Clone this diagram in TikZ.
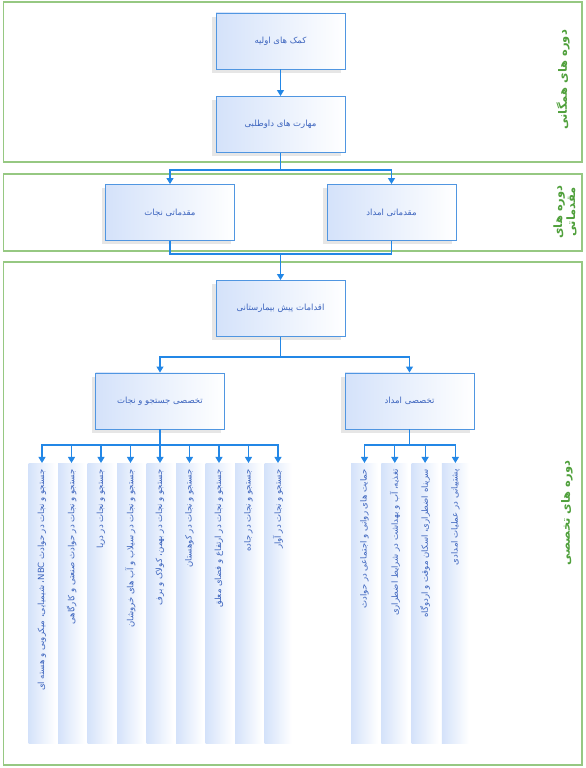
\documentclass[tikz,border=0pt]{standalone}
\usepackage{graphicx}
\usepackage{fontspec}
\newfontfamily\farsifont[Script=Arabic]{DejaVu Sans}
\usetikzlibrary{arrows.meta,shadows}
\TeXXeTstate=1
\definecolor{panelGreen}{RGB}{150,200,130}
\definecolor{labelGreen}{RGB}{80,160,60}
\definecolor{boxBlue}{RGB}{80,150,225}
\definecolor{arrBlue}{RGB}{35,135,230}
\definecolor{textBlue}{RGB}{60,100,190}
\definecolor{shadeBlue}{RGB}{212,226,250}
\newcommand{\fatext}[1]{{\farsifont\beginR #1\endR}}
\newcommand{\leaftext}[1]{\rotatebox{90}{\makebox[268pt][r]{\fatext{#1}}}}

\begin{document}
\begin{tikzpicture}[x=1pt,y=1pt]
    \tikzstyle{panel} = [ draw=panelGreen, line width=1.2pt ];
    \tikzstyle{block} = [ shape=rectangle, draw=boxBlue, line width=0.9pt, minimum width=129pt, minimum height=56pt, left color=shadeBlue, right color=white, text=textBlue, font=\fontsize{8.5}{10}\selectfont, drop shadow={shadow xshift=-4pt, shadow yshift=-4pt, opacity=0.2} ];
    \tikzstyle{leaf} = [ shape=rectangle, minimum width=27pt, minimum height=280pt, inner sep=0pt, left color=shadeBlue, right color=white, text=textBlue, font=\fontsize{8.5}{10}\selectfont, anchor=north ];
    \tikzstyle{phase} = [ text=labelGreen, font=\bfseries\fontsize{11.5}{13}\selectfont, rotate=90, align=center ];
    \tikzstyle{arr} = [ -{Triangle[width=7pt,length=6pt]}, arrBlue, line width=1.1pt ];
    \tikzstyle{line} = [ arrBlue, line width=1.1pt ];

    \useasboundingbox (0,0) rectangle (586,768);

    % green frames of the three course levels
    \draw [panel] (3.5,606) rectangle (582,766);
    \draw [panel] (3.5,517) rectangle (582,594);
    \draw [panel] (3.5,3) rectangle (582,506);

    \node (nPhaseGeneral) [phase] at (563,688) {\fatext{دوره های همگانی}};
    \node (nPhaseIntro) [phase] at (565,556) {\fatext{دوره های}\\\fatext{مقدماتی}};
    \node (nPhaseSpecial) [phase] at (567,255) {\fatext{دوره های تخصصی}};

    % general courses
    \node (nFirstAid) [block] at (280.5,727) {\fatext{کمک های اولیه}};
    \node (nVolunteer) [block, below of = nFirstAid, node distance = 83.5pt] {\fatext{مهارت های داوطلبی}};
    \draw [arr] (nFirstAid) -- (nVolunteer);

    % introductory courses
    \node (nPreRescue) [block] at (170,555.5) {\fatext{مقدماتی نجات}};
    \node (nPreRelief) [block, right of = nPreRescue, node distance = 221.5pt] {\fatext{مقدماتی امداد}};
    \coordinate (jTop) at (280.5,598);
    \draw [line] (nVolunteer) -- (jTop);
    \draw [arr] (jTop) -| (nPreRescue);
    \draw [arr] (jTop) -| (nPreRelief);

    % specialised courses
    \node (nPreHospital) [block] at (280.5,459.5) {\fatext{اقدامات پیش بیمارستانی}};
    \coordinate (jMid) at (280.5,514);
    \draw [line] (nPreRescue) |- (jMid);
    \draw [line] (nPreRelief) |- (jMid);
    \draw [arr] (jMid) -- (nPreHospital);

    \node (nSpecRescue) [block] at (160,367) {\fatext{تخصصی جستجو و نجات}};
    \node (nSpecRelief) [block, right of = nSpecRescue, node distance = 249.5pt] {\fatext{تخصصی امداد}};
    \coordinate (jSpec) at (280.5,411);
    \draw [line] (nPreHospital) -- (jSpec);
    \draw [arr] (jSpec) -| (nSpecRescue);
    \draw [arr] (jSpec) -| (nSpecRelief);

    % search and rescue branches
    \node (nLeafNbc) [leaf] at (42,305) {\leaftext{جستجو و نجات در حوادث \beginL NBC\endL{}، شیمیایی، میکروبی و هسته ای}};
    \node (nLeafIndustry) [leaf] at (71.5,305) {\leaftext{جستجو و نجات در حوادث صنعتی و کارگاهی}};
    \node (nLeafSea) [leaf] at (101,305) {\leaftext{جستجو و نجات در دریا}};
    \node (nLeafFlood) [leaf] at (130.5,305) {\leaftext{جستجو و نجات در سیلاب و آب های خروشان}};
    \node (nLeafAvalanche) [leaf] at (160,305) {\leaftext{جستجو و نجات در بهمن، کولاک و برف}};
    \node (nLeafMountain) [leaf] at (189.5,305) {\leaftext{جستجو و نجات در کوهستان}};
    \node (nLeafHeight) [leaf] at (219,305) {\leaftext{جستجو و نجات در ارتفاع و فضای معلق}};
    \node (nLeafRoad) [leaf] at (248.5,305) {\leaftext{جستجو و نجات در جاده}};
    \node (nLeafRubble) [leaf] at (278,305) {\leaftext{جستجو و نجات در آوار}};
    \coordinate (jRescue) at (160,323);
    \draw [line] (nSpecRescue) -- (jRescue);
    \draw [arr] (jRescue) -| (nLeafNbc);
    \draw [arr] (jRescue) -| (nLeafIndustry);
    \draw [arr] (jRescue) -| (nLeafSea);
    \draw [arr] (jRescue) -| (nLeafFlood);
    \draw [arr] (jRescue) -- (nLeafAvalanche);
    \draw [arr] (jRescue) -| (nLeafMountain);
    \draw [arr] (jRescue) -| (nLeafHeight);
    \draw [arr] (jRescue) -| (nLeafRoad);
    \draw [arr] (jRescue) -| (nLeafRubble);

    % relief branches
    \node (nLeafPsycho) [leaf] at (364.5,305) {\leaftext{حمایت های روانی و اجتماعی در حوادث}};
    \node (nLeafWash) [leaf] at (394.8,305) {\leaftext{تغذیه، آب و بهداشت در شرایط اضطراری}};
    \node (nLeafShelter) [leaf] at (425.1,305) {\leaftext{سرپناه اضطراری، اسکان موقت و اردوگاه}};
    \node (nLeafSupport) [leaf] at (455.4,305) {\leaftext{پشتیبانی در عملیات امدادی}};
    \coordinate (jRelief) at (409.5,323);
    \draw [line] (nSpecRelief) -- (jRelief);
    \draw [arr] (jRelief) -| (nLeafPsycho);
    \draw [arr] (jRelief) -| (nLeafWash);
    \draw [arr] (jRelief) -| (nLeafShelter);
    \draw [arr] (jRelief) -| (nLeafSupport);
\end{tikzpicture}
\end{document}
